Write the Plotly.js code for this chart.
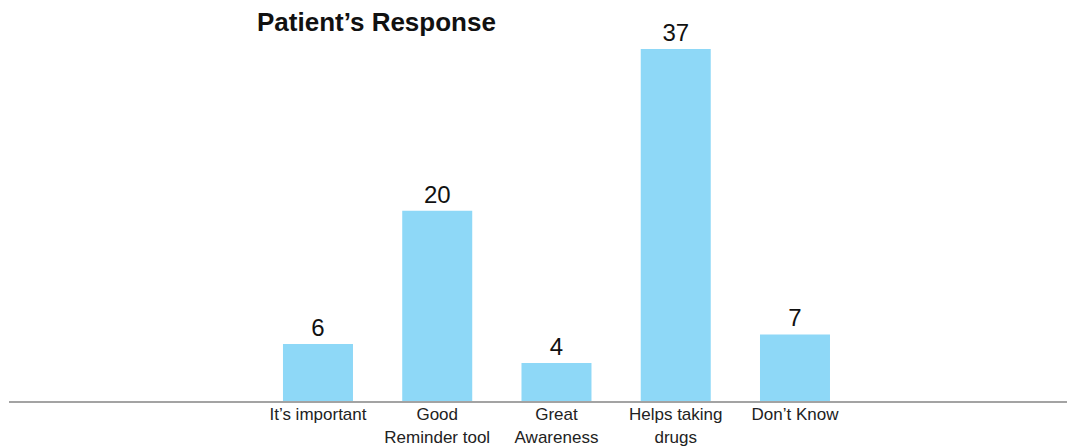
<!DOCTYPE html>
<html>
<head>
<meta charset="utf-8">
<script src="https://cdn.plot.ly/plotly-3.0.1.min.js"></script>
<style>html,body{margin:0;padding:0;background:#fff;}#chart{width:1067px;height:447px;}</style>
</head>
<body>
<div id="chart"></div>
<script>
const categories = ["It’s important", "Good<br>Reminder tool", "Great<br>Awareness", "Helps taking<br>drugs", "Don’t Know"];
const responses = [6, 20, 4, 37, 7];
const chartTitle = "Patient’s Response";

const trace = {
  type: "bar",
  x: categories,
  y: responses,
  text: responses.map(String),
  textposition: "outside",
  cliponaxis: false,
  textfont: {family: "Liberation Sans, Arial, sans-serif", size: 24, color: "#111"},
  marker: {color: "#8ED8F7"},
  hoverinfo: "x+y"
};

const layout = {
  width: 1067,
  height: 447,
  margin: {l: 9, r: 0, t: 10, b: 46},
  paper_bgcolor: "#fff",
  plot_bgcolor: "#fff",
  bargap: 0.413,
  showlegend: false,
  title: {
    text: "<b>" + chartTitle + "</b>",
    x: 257 / 1067, xanchor: "left", xref: "container",
    y: 1 - 22 / 447, yanchor: "middle", yref: "container",
    font: {family: "Liberation Sans, Arial, sans-serif", size: 26, color: "#111"}
  },
  xaxis: {
    type: "category",
    range: [-2.591, 6.281],
    showline: true,
    linecolor: "#a3a3a3",
    linewidth: 2,
    ticks: "",
    ticklabelstandoff: -3,
    showgrid: false,
    zeroline: false,
    tickfont: {family: "Liberation Sans, Arial, sans-serif", size: 17, color: "#222"},
    fixedrange: true
  },
  yaxis: {
    range: [0, 41.1],
    visible: false,
    showgrid: false,
    zeroline: false,
    fixedrange: true
  }
};

Plotly.newPlot("chart", [trace], layout, {displayModeBar: false, staticPlot: true});
</script>
</body>
</html>
